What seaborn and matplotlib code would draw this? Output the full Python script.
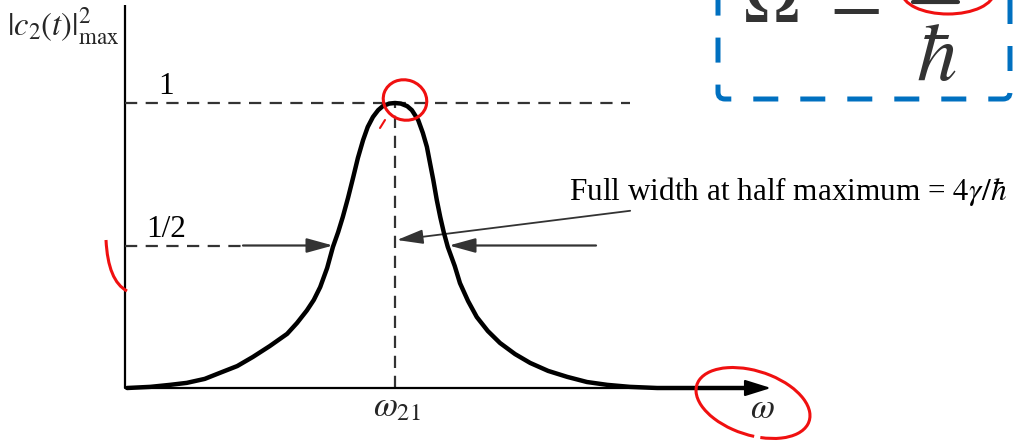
import numpy as np
import pandas as pd
import matplotlib
matplotlib.use("Agg")
import matplotlib.pyplot as plt
import seaborn as sns
from matplotlib.patches import Ellipse, Arc, FancyBboxPatch, PathPatch
from matplotlib.path import Path
from matplotlib.transforms import Affine2D

# Resonance curve: detuning from omega_21 (in half-width units) and peak probability
omega = [-4.62, -4.22, -3.88, -3.59, -3.28, -3.02, -2.72, -2.45, -2.16, -1.86,
         -1.69, -1.52, -1.40, -1.29, -1.17, -1.07, -0.98, -0.90, -0.81, -0.72,
         -0.64, -0.55, -0.47, -0.38, -0.29, -0.21, -0.10, 0.0,
         0.10, 0.21, 0.29, 0.40, 0.48, 0.55, 0.60, 0.66, 0.72, 0.78,
         0.84, 0.91, 1.03, 1.12, 1.26, 1.41, 1.60, 1.81, 2.07, 2.33,
         2.64, 2.97, 3.31, 3.66, 4.05, 4.52, 6.29]
c2max = [0.0, 0.004, 0.011, 0.018, 0.032, 0.053, 0.077, 0.109, 0.147, 0.190,
         0.228, 0.272, 0.309, 0.354, 0.421, 0.495, 0.547, 0.600, 0.667, 0.740,
         0.807, 0.870, 0.916, 0.951, 0.975, 0.989, 0.998, 1.0,
         0.998, 0.989, 0.975, 0.940, 0.895, 0.846, 0.793, 0.730, 0.660, 0.600,
         0.547, 0.495, 0.428, 0.368, 0.305, 0.249, 0.200, 0.158, 0.119, 0.088,
         0.060, 0.039, 0.021, 0.011, 0.004, 0.0, 0.0]
levels = [1.0, 0.5]
level_labels = ["1", "1/2"]
fwhm_text = r"Full width at half maximum = $4\gamma/\hbar$"
ylabel = r"$|c_2(t)|^2_{\mathrm{max}}$"
xtick_label = r"$\omega_{21}$"
xlabel = r"$\omega$"

W, H = 1026, 441
X0, PXU = 395.0, 58.0      # pixel of omega_21, pixels per unit of omega
Y0, PYU = 388.0, 285.0     # pixel of the baseline, pixels per unit of probability


def fx(px):
    return (px - X0) / PXU


def fy(py):
    return (Y0 - py) / PYU


sns.set_theme(style="white")
plt.rcParams["font.family"] = ["Liberation Serif", "DejaVu Serif"]
plt.rcParams["mathtext.fontset"] = "stix"

fig = plt.figure(figsize=(W / 100, H / 100), dpi=100)
ax = fig.add_axes([0, 0, 1, 1])

# transform for decorations placed in top-left pixel coordinates
pix = Affine2D().scale(1, -1).translate(0, H)

ink = "#333333"
x_axis = fx(125)
FS = 22.5

# resonance curve
df = pd.DataFrame({"omega": omega, "c2max": c2max})
sns.lineplot(data=df, x="omega", y="c2max", ax=ax, color="black", lw=3.2,
             sort=False, estimator=None, zorder=4)
ax.lines[-1].set_solid_capstyle("round")
ax.lines[-1].set_solid_joinstyle("round")
ax.set_xlim(fx(0), fx(W))
ax.set_ylim(fy(H), fy(0))
ax.axis("off")

# axes
ax.plot([x_axis, x_axis], [0, fy(5)], color="black", lw=1.6, solid_capstyle="butt")
ax.annotate("", xy=(fx(771), 0), xytext=(x_axis, 0),
            arrowprops=dict(arrowstyle="-|>,head_length=0.8,head_width=0.25",
                            mutation_scale=20, lw=1.6, color="black",
                            shrinkA=0, shrinkB=0))

# reference levels
ax.plot([x_axis, fx(630)], [levels[0], levels[0]], color=ink, lw=1.6,
        dashes=(5.5, 3.8))
ax.plot([x_axis, fx(243)], [levels[1], levels[1]], color=ink, lw=1.6,
        dashes=(5.5, 3.8))
ax.plot([0, 0], [0, levels[0]], color=ink, lw=1.6, dashes=(5.5, 3.5))

# half-maximum arrows
arrow_kw = dict(arrowstyle="-|>,head_length=0.8,head_width=0.22", mutation_scale=20,
                lw=1.6, color=ink, shrinkA=0, shrinkB=0)
ax.annotate("", xy=(fx(333), levels[1]), xytext=(fx(243), levels[1]), arrowprops=arrow_kw)
ax.annotate("", xy=(fx(449), levels[1]), xytext=(fx(596), levels[1]), arrowprops=arrow_kw)
ax.annotate(fwhm_text, xy=(fx(397), fy(240)), xytext=(fx(569), fy(191)),
            fontsize=FS, color="black", ha="left", va="center",
            arrowprops=dict(arrow_kw, lw=1.3))

# labels
for lev, lab in zip(levels, level_labels):
    ax.text(fx(166), lev + (fy(87) - 1.0), lab, fontsize=FS, ha="center",
            va="center", color="black")
ax.text(fx(63), fy(26), ylabel, fontsize=23.5, ha="center", va="center")
ax.text(fx(397), fy(408), xtick_label, fontsize=25, ha="center", va="center")
ax.text(fx(762), fy(410), xlabel, fontsize=25, ha="center", va="center")

# boxed formula in the corner
box = FancyBboxPatch((718, -40), 292, 139, boxstyle="round,pad=0,rounding_size=7",
                     transform=pix, fill=False, edgecolor="#0070C0", lw=3.6,
                     linestyle=(0, (5.0, 4.4)), capstyle="butt", clip_on=False)
ax.add_patch(box)
ax.text(771, 22, r"$\Omega$", transform=pix, fontsize=54, color=ink,
        ha="center", va="baseline")
ax.text(850, 21, r"$=$", transform=pix, fontsize=54, color=ink,
        ha="center", va="baseline")
ax.text(936, 80, r"$\hbar$", transform=pix, fontsize=58, color=ink,
        ha="center", va="baseline")
ax.plot([913, 958], [2, 2], transform=pix, color=ink, lw=3)

# red pen marks
red = "#f01010"
pen = dict(transform=pix, fill=False, edgecolor=red, lw=2.2, zorder=6)
ax.add_patch(Ellipse((405, 100), 44, 40, angle=20, **pen))
ax.plot([380, 385], [128, 120], transform=pix, color=red, lw=1.5)
ax.add_patch(PathPatch(Path([(106, 240), (108, 281), (127, 291)],
                            [Path.MOVETO, Path.CURVE3, Path.CURVE3]), **pen))
ax.add_patch(Arc((753, 403), 118, 64, angle=18, theta1=70, theta2=420, **pen))
ax.add_patch(Ellipse((948, -8), 92, 44, **pen))

fig.savefig("out.png", dpi=100)
